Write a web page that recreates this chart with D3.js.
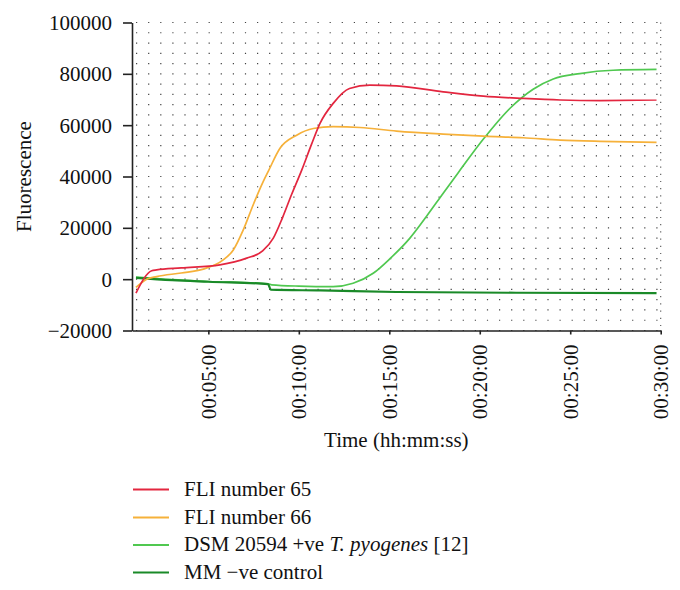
<!DOCTYPE html>
<html>
<head>
<meta charset="utf-8">
<script src="https://cdn.jsdelivr.net/npm/d3@7"></script>
<style>
  body { margin: 0; background: #fff; }
</style>
</head>
<body>
<div id="chart"></div>
<script>
// Time in minutes, fluorescence value
const fli65 = [[1.0,-5400],[1.87,3300],[2.14,3600],[3.5,4400],[5.64,5600],[7.12,8200],[8.0,11000],[8.59,16000],[9.1,24000],[9.6,33000],[10.16,42500],[10.7,52500],[11.17,60700],[11.9,68500],[12.8,74300],[13.93,75600],[15.4,75300],[17.98,73000],[20.2,71300],[22.4,70400],[24.45,69800],[26.66,69600],[29.77,69800]];
const fli66 = [[1.0,-3200],[1.59,0],[2.14,1000],[3.5,2400],[4.72,3900],[5.82,7500],[6.38,11400],[6.93,19200],[7.48,29000],[8.03,38000],[8.31,42000],[8.96,51000],[9.88,56100],[10.8,58700],[11.9,59400],[13.38,59100],[15.4,57700],[17.98,56500],[20.2,55700],[22.4,55100],[24.45,54200],[26.66,53700],[29.77,53300]];
const dsm20594 = [[1.0,800],[3.0,-200],[5.0,-900],[8.3,-1800],[8.5,-2200],[10.0,-2700],[11.9,-2900],[13.0,-1600],[14.11,2300],[15.04,8000],[16.14,16000],[17.06,24500],[17.98,33500],[18.81,41500],[20.19,54500],[21.66,66500],[22.95,74000],[24.06,78000],[25.53,80100],[27.37,81400],[29.77,81700]];
const mmControl = [[1.0,500],[3.0,-400],[5.0,-1000],[8.3,-1900],[8.45,-4100],[11.2,-4400],[15.4,-5000],[22.0,-5300],[29.77,-5400]];

const xTicks = [5, 10, 15, 20, 25, 30];
const yTicks = [-20000, 0, 20000, 40000, 60000, 80000, 100000];

const seriesNames = ["FLI number 65", "FLI number 66", "DSM 20594 +ve T. pyogenes [12]", "MM \u2212ve control"];
const seriesColors = ["#e3263f", "#f6b13a", "#50c850", "#1a8a28"];

const serif = '"Liberation Serif", LiberationSerif, "DejaVu Serif", DejaVuSerif, Tinos, "Noto Serif", FreeSerif, Times, serif';

const margin = { top: 22.5, left: 132 },
    width = 528.7,
    height = 308;

const svg = d3.select("#chart")
    .append("svg")
    .attr("width", 680)
    .attr("height", 590)
    .attr("font-family", serif)
    .attr("font-size", 21);

const g = svg.append("g")
    .attr("transform", `translate(${margin.left},${margin.top})`);

const x = d3.scaleLinear().domain([0.78, 30]).range([0, width]);
const y = d3.scaleLinear().domain([-20000, 100000]).range([height, 0]);

// Dotted grid
const gridVals = d3.range(-20000, 100001, 4000);
g.selectAll(".grid")
    .data(gridVals)
    .enter()
    .append("line")
    .attr("x1", 4)
    .attr("x2", width)
    .attr("y1", d => y(d))
    .attr("y2", d => y(d))
    .attr("stroke", "#444")
    .attr("stroke-width", 1.2)
    .attr("stroke-dasharray", "1.2,10.9");
g.append("line")
    .attr("x1", width).attr("x2", width)
    .attr("y1", 0).attr("y2", height)
    .attr("stroke", "#555")
    .attr("stroke-width", 1.1)
    .attr("stroke-dasharray", "1.2,6");

// Lines
const line = d3.line()
    .x(d => x(d[0]))
    .y(d => y(d[1]))
    .curve(d3.curveMonotoneX);

const allSeries = [fli65, fli66, dsm20594, mmControl];
const drawOrder = [2, 3, 1, 0];
drawOrder.forEach(i => {
    g.append("path")
        .datum(allSeries[i])
        .attr("fill", "none")
        .attr("stroke", seriesColors[i])
        .attr("stroke-width", i === 3 ? 2.2 : 1.7)
        .attr("d", line);
});

// Y axis
const yAxis = g.append("g")
    .call(d3.axisLeft(y).tickValues(yTicks).tickSizeInner(9).tickSizeOuter(0).tickPadding(11)
        .tickFormat(d => d < 0 ? "\u2212" + Math.abs(d) : d));
yAxis.selectAll("text").attr("dy", "0.34em");

// X axis
const xAxis = g.append("g")
    .attr("transform", `translate(0,${height})`)
    .call(d3.axisBottom(x).tickValues(xTicks).tickSizeInner(4).tickSizeOuter(0)
        .tickFormat(d => "00:" + String(d).padStart(2, "0") + ":00"));
xAxis.selectAll("text")
    .attr("transform", "rotate(-90)")
    .attr("x", -14)
    .attr("y", 0)
    .attr("dy", "0.33em")
    .style("text-anchor", "end");

[yAxis, xAxis].forEach(a => {
    a.attr("font-family", serif).attr("font-size", 21);
    a.selectAll("text").attr("fill", "#111");
    a.selectAll("path, line").attr("stroke", "#222").attr("stroke-width", 1.6);
});

// Axis titles
svg.append("text")
    .attr("transform", "translate(31,176.5) rotate(-90)")
    .attr("text-anchor", "middle")
    .attr("fill", "#111")
    .text("Fluorescence");

svg.append("text")
    .attr("x", margin.left + width / 2)
    .attr("y", 446.7)
    .attr("text-anchor", "middle")
    .attr("fill", "#111")
    .text("Time (hh:mm:ss)");

// Legend
const legendY = [489.5, 517.5, 545, 572.5];
seriesNames.forEach((name, i) => {
    svg.append("line")
        .attr("x1", 133).attr("x2", 169)
        .attr("y1", legendY[i]).attr("y2", legendY[i])
        .attr("stroke", seriesColors[i])
        .attr("stroke-width", 1.8);
    const t = svg.append("text")
        .attr("x", 184)
        .attr("y", legendY[i] + 6)
        .attr("fill", "#111");
    if (i === 2) {
        t.append("tspan").text("DSM 20594 +ve ");
        t.append("tspan").attr("font-style", "italic").text("T. pyogenes");
        t.append("tspan").text(" [12]");
    } else {
        t.text(name);
    }
});
</script>
</body>
</html>
